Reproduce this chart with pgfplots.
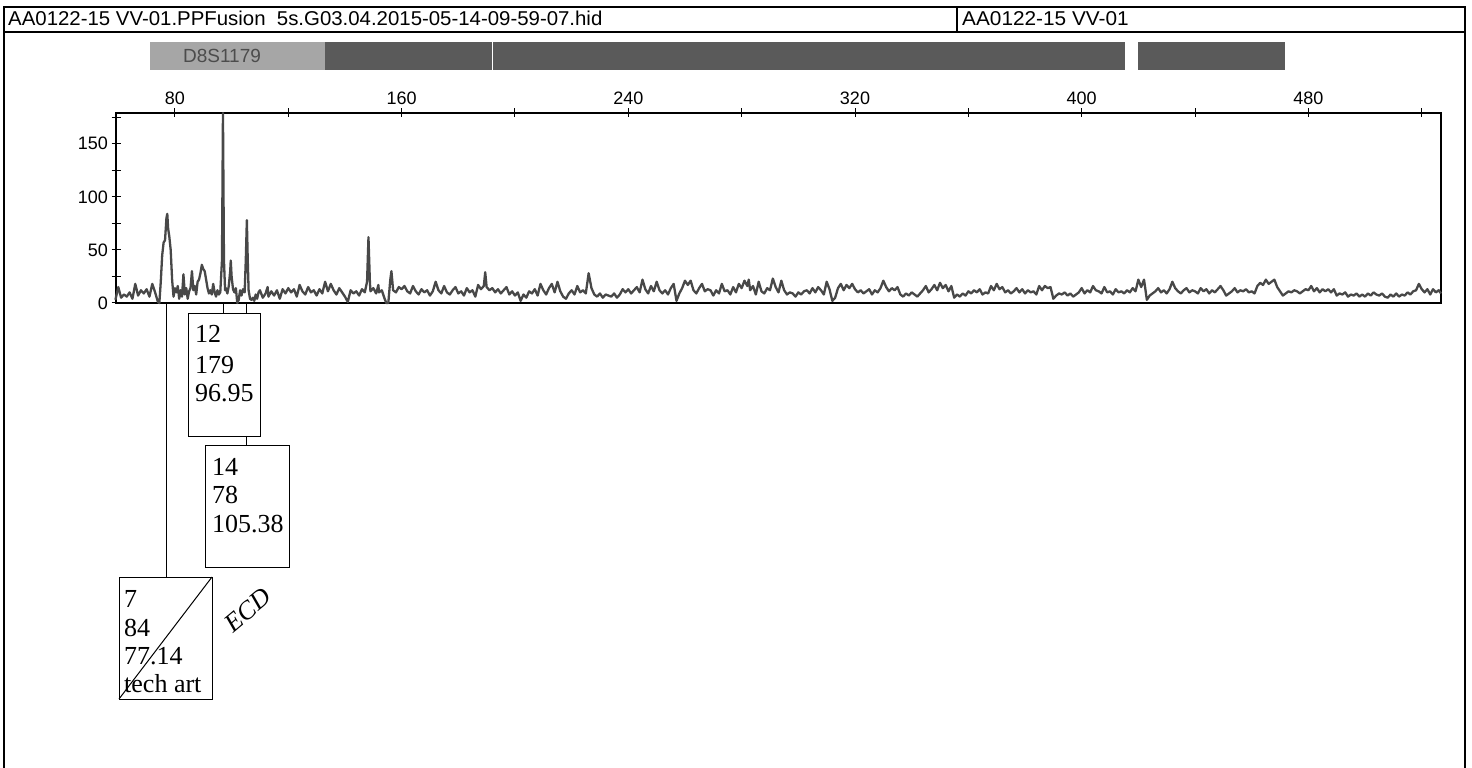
\documentclass[border=0pt]{standalone}
\usepackage{pgfplots}
\pgfplotsset{compat=1.18}
\usepackage{fontspec}
\setmainfont{Liberation Sans}
\newfontfamily\serif{Liberation Serif}
\definecolor{trace}{HTML}{484848}
\definecolor{bardark}{HTML}{5A5A5A}
\definecolor{barlight}{HTML}{A6A6A6}
\begin{document}
\begin{tikzpicture}
\useasboundingbox (0pt,0pt) rectangle (1472pt,768pt);
\begin{axis}[
  at={(116pt,465pt)}, anchor=south west,
  scale only axis, width=1325pt, height=190pt,
  xmin=59.2, xmax=526.8, ymin=0, ymax=179,
  clip=false,
  axis line style={line width=1.3pt},
  xtick={80,160,240,320,400,480},
  minor xtick={120,200,280,360,440,520},
  ytick={0,50,100,150},
  minor ytick={25,75,125,175},
  xtick pos=upper, xticklabel pos=upper,
  ytick pos=lower,
  tick align=center,
  major tick length=9pt, minor tick length=9pt,
  tick style={line width=1pt,black},
  ticklabel style={font=\fontsize{18}{18}\selectfont},
  /pgf/number format/assume math mode=true,
]
\addplot[trace,line width=2.3pt,line join=round] coordinates {
(59,3)(60,15)(61,5)(62,8)(63,6)(64,10)(65,4)(66,18)(67,7)(68,12)(69,9)(70,13)(71,6)(72,18)(73,10)(74,1)(74.5,0)
(75,20)(75.5,45)(76,57)(76.5,59)(77,80)(77.3,84)(77.6,70)(78,63)(78.5,50)(79,22)(79.5,6)(80,14)(80.5,10)
(81,16)(81.5,4)(82,12)(82.5,6)(83,27)(83.5,8)(84,14)(84.5,4)(85,11)(85.5,14)(86,30)(86.5,12)(87,16)(87.5,8)
(88,20)(88.5,22)(89,28)(89.5,36)(90,32)(90.5,30)(91,22)(91.5,14)(92,9)(92.5,12)(93,8)(93.5,18)(94,10)(94.5,6)
(95,12)(95.5,8)(96,10)(96.6,40)(96.95,179)(97.3,40)(97.7,12)(98,14)(98.5,9)(99,16)(99.5,30)(99.7,40)(100,25)
(100.5,13)(101,10)(101.5,14)(102,0)(102.5,3)(103,12)(103.5,7)(104,13)(104.6,10)(105,40)(105.38,78)(105.7,40)
(106,12)(106.5,4)(107,3)(107.5,5)(108,2)(108.5,8)(109,4)(109.5,10)(110,12)(111,5)(112,9)(112.7,15)(113,6)
(114,11)(115,7)(116,12)(117,4)(118,13)(119,9)(120,14)(121,10)(122,13)(123,6)(124,17)(125,11)(126,8)(127,15)
(128,10)(129,12)(130,7)(131,13)(132,9)(133,20)(134,11)(135,18)(136,12)(137,8)(138,14)(139,10)(140,6)(141,1)
(142,12)(143,9)(144,11)(145,7)(146,13)(147,10)(147.8,20)(148.3,62)(148.8,20)(149,11)(150,14)(151,9)(151.8,17)
(152,10)(153,12)(154,4)(154.6,0)(155.3,0)(156,22)(156.4,30)(157,12)(158,10)(159,15)(160,13)(161,16)(162,11)
(163,9)(164,16)(165,11)(166,8)(167,13)(168,10)(169,12)(170,7)(171,11)(172,20)(173,12)(174,9)(175,16)(176,10)
(177,8)(178,12)(179,15)(180,9)(181,11)(182,7)(183,14)(184,10)(185,12)(186,6)(187,17)(188,13)(189,16)(189.5,29)
(190,15)(191,12)(192,14)(193,10)(194,13)(195,9)(196,12)(197,15)(198,8)(199,11)(200,7)(201,10)(202,2)(203,8)
(204,5)(205,11)(206,9)(207,13)(208,7)(209,18)(210,12)(211,8)(212,14)(213,18)(214,10)(215,20)(216,11)(217,6)
(218,4)(219,9)(220,12)(221,8)(222,16)(223,10)(224,12)(225,9)(226,28)(227,14)(228,8)(229,6)(230,9)(231,5)
(232,8)(233,7)(234,6)(235,9)(236,5)(237,8)(238,13)(239,10)(240,13)(241,9)(242,12)(243,15)(244,10)(245,22)
(246,13)(247,9)(248,16)(249,11)(250,20)(251,12)(252,9)(253,12)(254,8)(255,14)(256,18)(257,2)(258,9)(259,14)
(260,21)(261,17)(262,21)(263,12)(264,9)(265,14)(266,18)(267,11)(268,13)(269,12)(270,7)(271,12)(272,9)(273,18)
(274,11)(275,12)(276,8)(277,15)(278,10)(279,18)(280,14)(281,21)(282,16)(282.5,22)(283,12)(284,16)(285,8)
(286,20)(287,11)(288,9)(289,14)(290,12)(291,23)(292,15)(293,10)(294,21)(295,12)(296,8)(297,10)(298,9)(299,6)
(300,10)(301,8)(302,11)(303,12)(304,9)(305,14)(306,10)(307,15)(308,12)(309,8)(310,20)(311,13)(312,2)(313,5)
(314,14)(315,18)(316,12)(317,17)(318,14)(319,18)(320,13)(321,10)(322,12)(323,9)(324,11)(325,13)(326,8)(327,12)
(328,10)(329,14)(330,21)(331,15)(332,11)(333,14)(334,12)(335,15)(336,8)(337,6)(338,9)(339,7)(340,10)(341,8)
(342,6)(343,9)(344,12)(345,16)(346,10)(347,13)(348,17)(349,12)(350,19)(351,14)(352,17)(353,11)(354,16)(355,5)
(356,8)(357,6)(358,9)(359,7)(360,11)(361,9)(362,12)(363,10)(364,13)(365,8)(366,10)(367,9)(368,16)(369,12)
(370,18)(371,13)(372,15)(373,10)(374,12)(375,9)(376,11)(377,14)(378,10)(379,13)(380,9)(381,12)(382,10)(383,11)
(384,8)(385,16)(386,12)(387,16)(388,14)(389,15)(390,4)(391,7)(392,9)(393,8)(394,10)(395,7)(396,9)(397,6)
(398,8)(399,10)(400,14)(401,9)(402,12)(403,10)(404,16)(405,12)(406,11)(407,9)(408,15)(409,10)(410,11)(411,8)
(412,13)(413,10)(414,11)(415,9)(416,12)(417,10)(418,14)(419,11)(420,22)(421,15)(422,22)(423,3)(424,7)(425,9)
(426,11)(427,14)(428,10)(429,12)(430,9)(431,13)(432,20)(433,14)(434,11)(435,9)(436,12)(437,14)(438,10)(439,12)
(440,11)(441,9)(442,14)(443,11)(444,13)(445,9)(446,12)(447,10)(448,13)(449,16)(450,12)(451,7)(452,9)(453,11)
(454,14)(455,10)(456,12)(457,11)(458,13)(459,10)(460,11)(461,9)(462,16)(463,19)(464,17)(465,22)(466,18)(467,20)
(468,22)(469,15)(470,11)(471,7)(472,9)(473,11)(474,10)(475,12)(476,11)(477,9)(478,11)(479,13)(480,12)(481,16)
(482,11)(483,14)(484,10)(485,13)(486,11)(487,13)(488,10)(489,13)(490,7)(491,9)(492,8)(493,10)(494,6)(495,8)
(496,7)(497,9)(498,6)(499,8)(500,6)(501,9)(502,7)(503,10)(504,8)(505,7)(506,9)(507,6)(508,5)(509,8)(510,6)
(511,9)(512,6)(513,8)(514,7)(515,10)(516,8)(517,11)(518,12)(519,18)(520,13)(521,10)(522,13)(523,8)(524,13)
(525,10)(526,12)(526.8,9)
};
\coordinate (p1) at (axis cs:96.95,0);
\coordinate (p2) at (axis cs:105.38,0);
\coordinate (p3) at (axis cs:77.14,0);
\end{axis}
\begin{scope}[x=1pt,y=1pt]
% page frame and header
\draw[line width=1.2pt] (4,0) -- (4,761) -- (1465,761) -- (1465,0);
\draw[line width=1.2pt] (4,736) -- (1465,736);
\draw[line width=1.2pt] (957,761) -- (957,736);
\node[anchor=base west,inner sep=0pt,font=\fontsize{20}{20}\selectfont] at (8,742) {\scalebox{1.02}[1]{AA0122-15 VV-01.PPFusion\ \ 5s.G03.04.2015-05-14-09-59-07.hid}};
\node[anchor=base west,inner sep=0pt,font=\fontsize{20}{20}\selectfont] at (962,742) {\scalebox{1.04}[1]{AA0122-15 VV-01}};
% marker bins bar
\fill[barlight] (150,698) rectangle (325,726);
\fill[bardark] (325,698) rectangle (1125,726);
\fill[bardark] (1138,698) rectangle (1285,726);
\draw[white,line width=1pt] (492,698) -- (492,726);
\node[font=\fontsize{19}{20}\selectfont,text=black!70] at (222,712) {D8S1179};
% peak annotations
\path (0,455) coordinate (t1) (0,332) coordinate (b1) (0,323) coordinate (t2) (0,191) coordinate (t3);
\draw[line width=0.8pt] (p1) -- (p1 |- t1);
\draw[line width=0.8pt] (p2) -- (p2 |- t1);
\draw[line width=0.8pt] (p2 |- b1) -- (p2 |- t2);
\draw[line width=0.8pt] (p3) -- (p3 |- t3);
\draw[line width=0.8pt] (188,332) rectangle (260,455);
\draw[line width=0.8pt] (205,201) rectangle (289,323);
\draw[line width=0.8pt] (119,69) rectangle (212,191);
\begin{scope}[every node/.style={anchor=base west,inner sep=0pt,font=\serif\fontsize{26}{28}\selectfont}]
\node at (195,425) {12};
\node at (195,394) {179};
\node at (195,366) {96.95};
\node at (212,292) {14};
\node at (212,264) {78};
\node at (212,235) {105.38};
\node at (124,160) {7};
\node at (124,131) {84};
\node at (124,103) {77.14};
\node at (124,75) {tech art};
\end{scope}
\draw[line width=1pt] (119,69) -- (212,191);
\node[rotate=40,inner sep=0pt,font=\serif\itshape\fontsize{26}{26}\selectfont] at (248,158) {ECD};
\end{scope}
\end{tikzpicture}
\end{document}
